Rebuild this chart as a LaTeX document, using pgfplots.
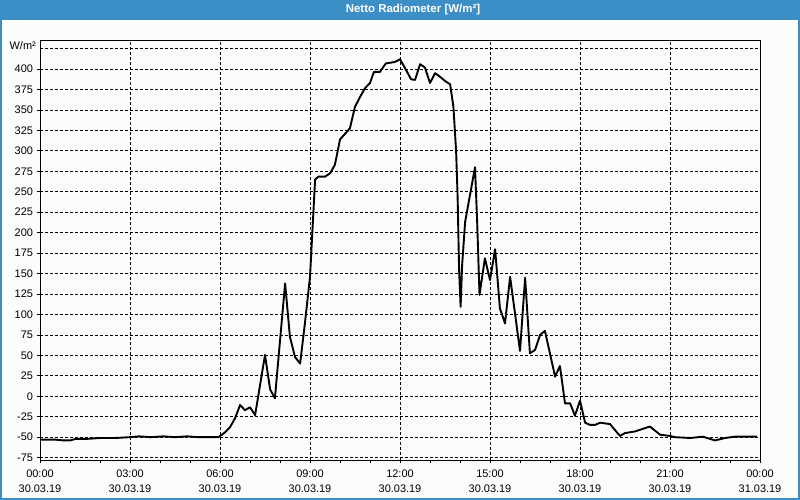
\documentclass[border=0pt]{standalone}
\usepackage{fontspec}
\setmainfont{Liberation Sans}
\usepackage{pgfplots}
\pgfplotsset{compat=1.18}
\definecolor{frameblue}{HTML}{3C8FC6}
\definecolor{bgc}{HTML}{FBFDFC}
\begin{document}
\begin{tikzpicture}[x=1bp,y=1bp]
\fill[bgc] (0,0) rectangle (800,500);
\fill[frameblue] (0,480) rectangle (800,500);
\draw[frameblue, line width=2bp] (1,1) rectangle (799,499);
\node[text=white, font=\fontsize{11.5}{13}\selectfont\bfseries] at (413,490) {Netto Radiometer [W/m²]};
\node[anchor=east, inner sep=0pt, font=\fontsize{11}{13}\selectfont] at (36,454) {W/m²};
\begin{axis}[
  at={(40bp,40bp)}, anchor=south west,
  width=720bp, height=419.3bp, scale only axis,
  xmin=0, xmax=24, ymin=-77.9, ymax=434.7,
  axis line style={black, line width=0.8bp},
  xtick={0,3,...,24},
  minor xtick={1,2,4,5,7,8,10,11,13,14,16,17,19,20,22,23},
  xticklabels={00:00\\30.03.19, 03:00\\30.03.19, 06:00\\30.03.19, 09:00\\30.03.19, 12:00\\30.03.19, 15:00\\30.03.19, 18:00\\30.03.19, 21:00\\30.03.19, 00:00\\31.03.19},
  xticklabel style={align=center, font=\fontsize{11}{15}\selectfont, yshift=-3bp},
  yticklabel style={font=\fontsize{11}{13}\selectfont},
  ytick={-75,-50,...,400},
  extra y ticks={425}, extra y tick labels={},
  extra y tick style={major tick length=0pt, grid=major},
  tick align=outside, xtick pos=bottom, ytick pos=left,
  major tick length=3.5bp, minor tick length=3.5bp,
  tick style={black, line width=0.8bp},
  grid=major,
  major grid style={black, line width=0.8bp, dash pattern=on 3bp off 2bp},
  /pgf/number format/assume math mode=true,
]
\addplot[black, line width=1.9bp, sharp plot, line join=round] coordinates {
(0,-53) (0.5,-53) (0.8,-54) (1.0,-54) (1.2,-52) (1.6,-52) (2.0,-51) (2.5,-51) (3.0,-50) (3.3,-49) (3.7,-50) (4.1,-49) (4.5,-50) (4.9,-49) (5.3,-50) (5.95,-50)
(6.17,-44) (6.33,-38) (6.5,-27) (6.67,-10.6) (6.83,-17) (7.0,-13.5) (7.17,-23) (7.5,50.5) (7.67,8.5) (7.83,-2.5) (8.17,138) (8.33,73) (8.5,48) (8.67,40) (8.83,89) (9.0,146)
(9.17,265) (9.28,268.5) (9.5,268.5) (9.67,272.6) (9.83,283) (10.0,314) (10.33,327.6) (10.5,354) (10.67,366) (10.83,376.5) (11.0,383) (11.13,396.5) (11.33,396.5) (11.53,407) (11.72,408) (11.83,408.7) (12.0,412)
(12.17,401) (12.37,387.5) (12.5,386.7) (12.67,406) (12.83,402) (13.0,383) (13.17,395) (13.33,390.7) (13.5,385.5) (13.67,381.4) (13.78,354) (13.87,300) (13.92,244) (13.97,154) (14.02,109.5) (14.07,160) (14.17,213)
(14.5,280) (14.57,215) (14.65,124) (14.83,168.7) (15.0,142) (15.17,179.7) (15.33,107.6) (15.5,89) (15.67,146) (16.0,55.4) (16.17,145) (16.33,52.6) (16.5,56.6) (16.67,75) (16.83,80) (17.17,24) (17.33,37) (17.5,-8.6)
(17.67,-8.6) (17.83,-23.7) (18.0,-5.4) (18.17,-32.3) (18.33,-35) (18.5,-35) (18.67,-32.3) (19.0,-34) (19.33,-48.5) (19.5,-45) (19.83,-43) (20.33,-37) (20.67,-47) (21.0,-48.5) (21.17,-50) (21.67,-51) (22.1,-49.4) (22.5,-54) (22.83,-51) (23.17,-49.4) (23.9,-49.4)
};
\end{axis}
\end{tikzpicture}
\end{document}
